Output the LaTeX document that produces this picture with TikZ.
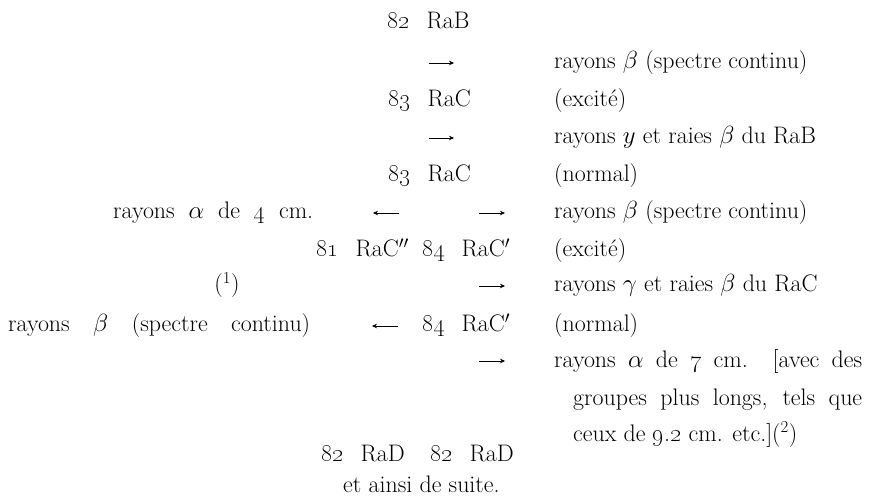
\documentclass[tikz,border=0pt]{standalone}
\usetikzlibrary{arrows.meta}
\newcommand{\osn}[1]{\oldstylenums{#1}}
\newcommand{\nuc}[2]{\osn{#1}\hspace{0.7em}#2}
\newcommand{\wide}[2]{\makebox[#1][s]{#2}}
\tikzset{
  txt/.style={anchor=base west,inner sep=0pt,font=\fontsize{24}{28}\selectfont},
  ray/.style={-{Stealth[length=5pt,width=4.5pt]},line width=0.6pt}
}

\begin{document}
\begin{tikzpicture}[x=1bp,y=-1bp]
  \useasboundingbox (0,0) rectangle (872,498);
  % left and middle column
  \node[txt] (rab) at (387,29) {\nuc{82}{RaB}};
  \node[txt] (rac1) at (388,107) {\nuc{83}{RaC}};
  \node[txt] (rac2) at (388,182) {\nuc{83}{RaC}};
  \node[txt] (alpha4) at (113,219) {\wide{200bp}{rayons $\alpha$ de \osn{4} cm.}};
  \node[txt] (racpp) at (316,257) {\nuc{81}{RaC$''$}};
  \node[txt] (racp1) at (422,257) {\nuc{84}{RaC$'$}};
  \node[txt,anchor=base] (note1) at (227,292) {(\textsuperscript{1})};
  \node[txt] (beta2) at (8,332) {\wide{302bp}{rayons $\beta$ (spectre continu)}};
  \node[txt] (racp2) at (422,332) {\nuc{84}{RaC$'$}};
  \node[txt] (rad1) at (321,461) {\nuc{82}{RaD}};
  \node[txt] (rad2) at (430,461) {\nuc{82}{RaD}};
  \node[txt] (suite) at (343,492) {et ainsi de suite.};
  % right column
  \node[txt] (betaB) at (554,69) {rayons $\beta$ (spectre continu)};
  \node[txt] (excB) at (554,107) {(excité)};
  \node[txt] (gamB) at (554,144) {rayons $y$ et raies $\beta$ du RaB};
  \node[txt] (normB) at (554,182) {(normal)};
  \node[txt] (betaC) at (554,219) {rayons $\beta$ (spectre continu)};
  \node[txt] (excC) at (554,257) {(excité)};
  \node[txt] (gamC) at (554,292) {rayons $\gamma$ et raies $\beta$ du RaC};
  \node[txt] (normC) at (554,332) {(normal)};
  \node[txt] (alpha7) at (554,367) {\wide{308bp}{rayons $\alpha$ de \osn{7} cm. [avec des}};
  \node[txt] (grp) at (573,405) {\wide{289bp}{groupes plus longs, tels que}};
  \node[txt] (ceux) at (573,441) {ceux de \osn{9}.\osn{2} cm. etc.](\textsuperscript{2})};
  % arrows
  \coordinate (a1s) at (429,63);  \coordinate (a1e) at (454,63);
  \coordinate (a2s) at (429,138); \coordinate (a2e) at (454,138);
  \coordinate (a3s) at (399,213); \coordinate (a3e) at (373,213);
  \coordinate (a4s) at (479,213); \coordinate (a4e) at (505,213);
  \coordinate (a5s) at (479,286); \coordinate (a5e) at (505,286);
  \coordinate (a6s) at (398,326); \coordinate (a6e) at (372,326);
  \coordinate (a7s) at (479,361); \coordinate (a7e) at (505,361);
  \draw[ray] (a1s) -- (a1e);
  \draw[ray] (a2s) -- (a2e);
  \draw[ray] (a3s) -- (a3e);
  \draw[ray] (a4s) -- (a4e);
  \draw[ray] (a5s) -- (a5e);
  \draw[ray] (a6s) -- (a6e);
  \draw[ray] (a7s) -- (a7e);
\end{tikzpicture}
\end{document}
